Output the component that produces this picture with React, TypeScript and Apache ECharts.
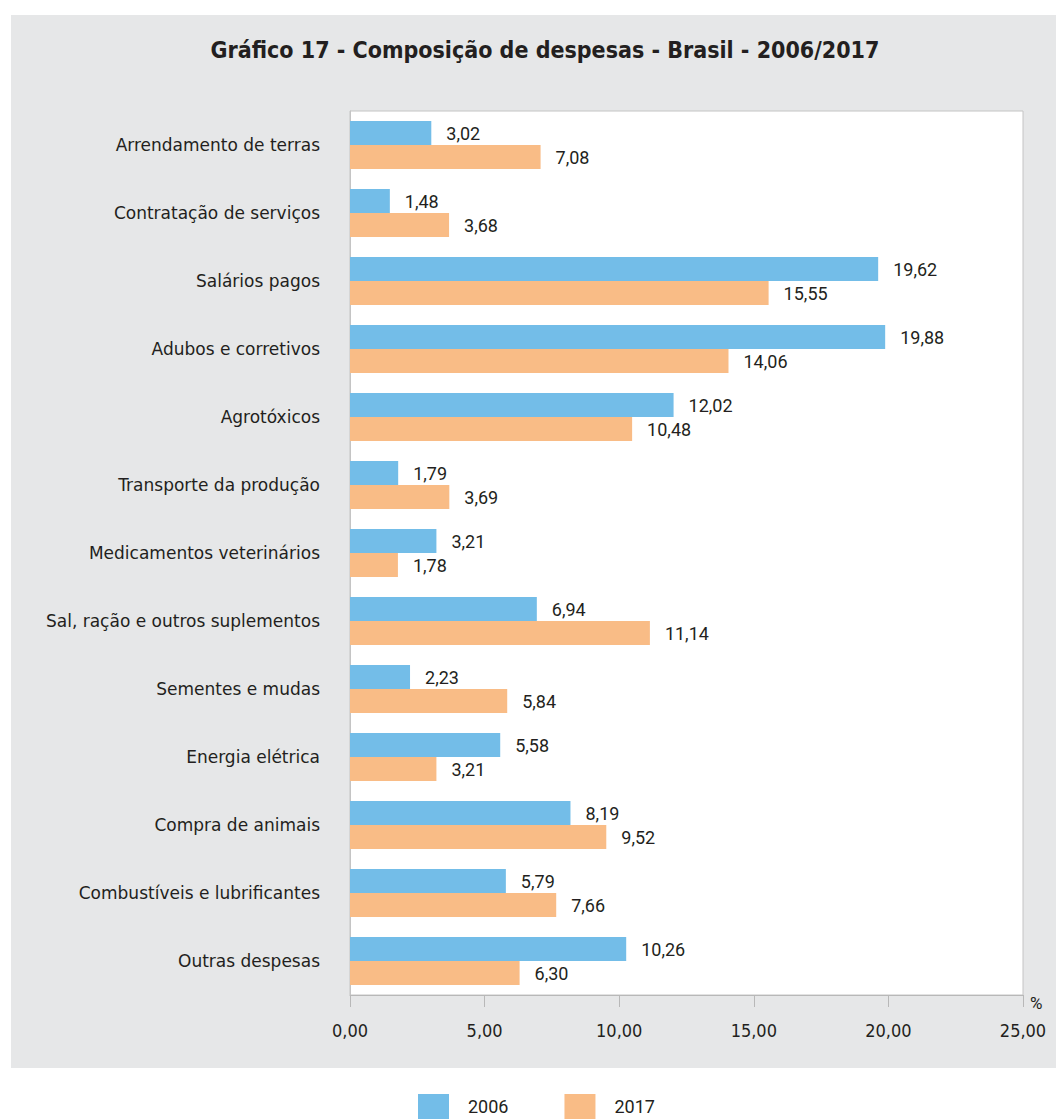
import React, { useEffect, useRef } from "react";
import * as echarts from "echarts";

const categories = [
  "Arrendamento de terras",
  "Contratação de serviços",
  "Salários pagos",
  "Adubos e corretivos",
  "Agrotóxicos",
  "Transporte da produção",
  "Medicamentos veterinários",
  "Sal, ração e outros suplementos",
  "Sementes e mudas",
  "Energia elétrica",
  "Compra de animais",
  "Combustíveis e lubrificantes",
  "Outras despesas",
];
const values2006 = [3.02, 1.48, 19.62, 19.88, 12.02, 1.79, 3.21, 6.94, 2.23, 5.58, 8.19, 5.79, 10.26];
const values2017 = [7.08, 3.68, 15.55, 14.06, 10.48, 3.69, 1.78, 11.14, 5.84, 3.21, 9.52, 7.66, 6.3];
const seriesNames = ["2006", "2017"];
const title = "Gráfico 17 - Composição de despesas - Brasil - 2006/2017";

const fmt = (v: number) => v.toFixed(2).replace(".", ",");
const NARROW = "'DejaVu Sans Condensed', Arial, sans-serif";
const SANS = "'DejaVu Sans', Arial, sans-serif";
const LABEL = "Roboto, Arial, sans-serif";

export default function App() {
  const ref = useRef<HTMLDivElement>(null);
  useEffect(() => {
    if (!ref.current) return;
    const chart = echarts.init(ref.current, undefined, { renderer: "svg" });
    const labelStyle = {
      show: true,
      position: "right" as const,
      distance: 15,
      fontFamily: LABEL,
      fontSize: 18,
      color: "#231f20",
      formatter: (p: any) => fmt(p.value),
    };
    chart.setOption({
      animation: false,
      backgroundColor: "#ffffff",
      graphic: [
        {
          type: "rect",
          z: -10,
          shape: { x: 11, y: 15, width: 1045, height: 1053 },
          style: { fill: "#e6e7e8" },
        },
        {
          type: "text",
          x: 1030,
          y: 994,
          style: { text: "%", fontFamily: LABEL, fontSize: 17, fill: "#231f20" },
        },
      ],
      title: {
        text: title,
        left: 540,
        top: 33,
        textAlign: "center",
        textStyle: { fontFamily: NARROW, fontWeight: "bold", fontSize: 23, color: "#231f20" },
      },
      legend: {
        data: seriesNames,
        left: 418,
        top: 1094,
        padding: 0,
        itemWidth: 31,
        itemHeight: 25,
        itemGap: 56,
        icon: "rect",
        textStyle: { fontFamily: LABEL, fontSize: 18, color: "#231f20", padding: [0, 0, 0, 14] },
      },
      grid: {
        left: 350,
        right: 33,
        top: 111,
        bottom: 124,
        show: true,
        backgroundColor: "#ffffff",
        borderColor: "#c4c4c4",
        borderWidth: 1,
      },
      xAxis: {
        type: "value",
        min: 0,
        max: 25,
        interval: 5,
        axisLine: { show: true, lineStyle: { color: "#b8b8b8" } },
        axisTick: { show: true, length: 12, lineStyle: { color: "#b8b8b8" } },
        splitLine: { show: false },
        axisLabel: {
          margin: 26,
          fontFamily: NARROW,
          fontSize: 18,
          color: "#231f20",
          formatter: (v: number) => fmt(v),
        },
      },
      yAxis: {
        type: "category",
        data: categories,
        inverse: true,
        axisLine: { show: true, lineStyle: { color: "#c4c4c4" } },
        axisTick: { show: false },
        axisLabel: {
          margin: 30,
          fontFamily: SANS,
          fontSize: 17,
          color: "#231f20",
        },
      },
      series: [
        {
          name: seriesNames[0],
          type: "bar",
          data: values2006,
          barWidth: 24,
          barGap: "0%",
          itemStyle: { color: "#73bde8" },
          label: labelStyle,
        },
        {
          name: seriesNames[1],
          type: "bar",
          data: values2017,
          barWidth: 24,
          barGap: "0%",
          itemStyle: { color: "#f9bc86" },
          label: labelStyle,
        },
      ],
    });
    return () => chart.dispose();
  }, []);
  return (
    <div
      ref={ref}
      style={{ position: "absolute", left: 0, top: 0, width: 1056, height: 1119 }}
    />
  );
}
